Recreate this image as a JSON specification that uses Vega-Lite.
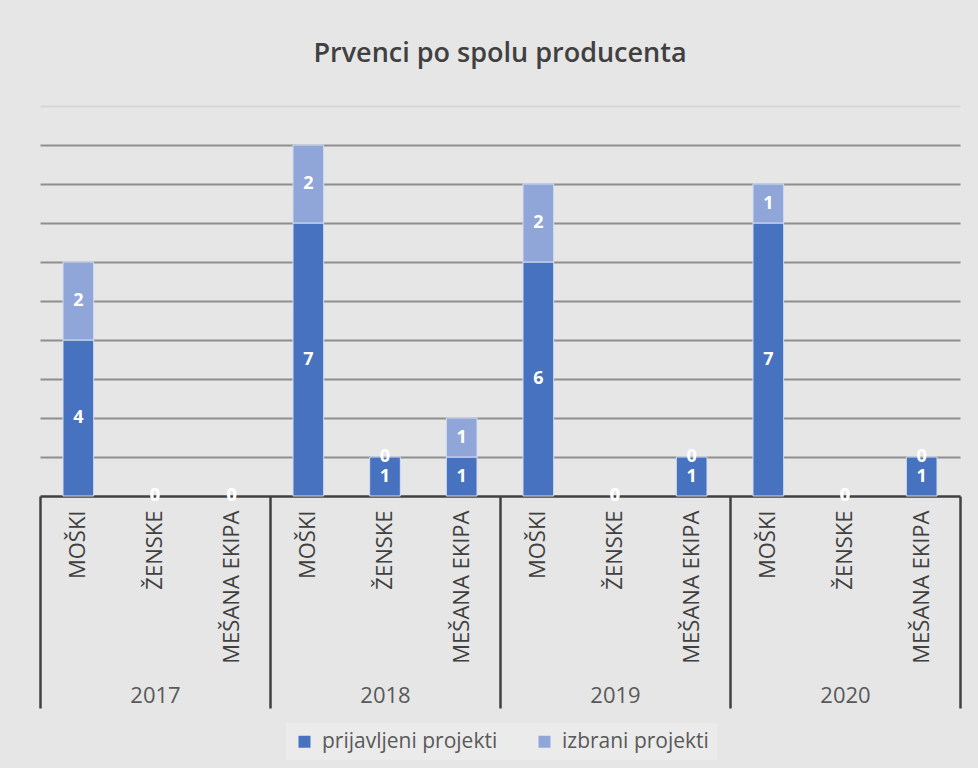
{
  "$schema": "https://vega.github.io/schema/vega-lite/v6.json",
  "background": "#e6e6e6",
  "padding": {"left": 38, "top": 40, "right": 20, "bottom": 8},
  "width": 920,
  "height": 390,
  "title": {
    "text": "Prvenci po spolu producenta",
    "font": "Open Sans",
    "fontSize": 27,
    "fontWeight": 600,
    "color": "#404040",
    "offset": 38,
    "anchor": "middle"
  },
  "data": {
    "values": [
      {"year": "2017", "cat": "MOŠKI", "slot": "2017|MOŠKI", "series": "prijavljeni projekti", "value": 4},
      {"year": "2017", "cat": "MOŠKI", "slot": "2017|MOŠKI", "series": "izbrani projekti", "value": 2},
      {"year": "2017", "cat": "ŽENSKE", "slot": "2017|ŽENSKE", "series": "prijavljeni projekti", "value": 0},
      {"year": "2017", "cat": "ŽENSKE", "slot": "2017|ŽENSKE", "series": "izbrani projekti", "value": 0},
      {"year": "2017", "cat": "MEŠANA EKIPA", "slot": "2017|MEŠANA EKIPA", "series": "prijavljeni projekti", "value": 0},
      {"year": "2017", "cat": "MEŠANA EKIPA", "slot": "2017|MEŠANA EKIPA", "series": "izbrani projekti", "value": 0},
      {"year": "2018", "cat": "MOŠKI", "slot": "2018|MOŠKI", "series": "prijavljeni projekti", "value": 7},
      {"year": "2018", "cat": "MOŠKI", "slot": "2018|MOŠKI", "series": "izbrani projekti", "value": 2},
      {"year": "2018", "cat": "ŽENSKE", "slot": "2018|ŽENSKE", "series": "prijavljeni projekti", "value": 1},
      {"year": "2018", "cat": "ŽENSKE", "slot": "2018|ŽENSKE", "series": "izbrani projekti", "value": 0},
      {"year": "2018", "cat": "MEŠANA EKIPA", "slot": "2018|MEŠANA EKIPA", "series": "prijavljeni projekti", "value": 1},
      {"year": "2018", "cat": "MEŠANA EKIPA", "slot": "2018|MEŠANA EKIPA", "series": "izbrani projekti", "value": 1},
      {"year": "2019", "cat": "MOŠKI", "slot": "2019|MOŠKI", "series": "prijavljeni projekti", "value": 6},
      {"year": "2019", "cat": "MOŠKI", "slot": "2019|MOŠKI", "series": "izbrani projekti", "value": 2},
      {"year": "2019", "cat": "ŽENSKE", "slot": "2019|ŽENSKE", "series": "prijavljeni projekti", "value": 0},
      {"year": "2019", "cat": "ŽENSKE", "slot": "2019|ŽENSKE", "series": "izbrani projekti", "value": 0},
      {"year": "2019", "cat": "MEŠANA EKIPA", "slot": "2019|MEŠANA EKIPA", "series": "prijavljeni projekti", "value": 1},
      {"year": "2019", "cat": "MEŠANA EKIPA", "slot": "2019|MEŠANA EKIPA", "series": "izbrani projekti", "value": 0},
      {"year": "2020", "cat": "MOŠKI", "slot": "2020|MOŠKI", "series": "prijavljeni projekti", "value": 7},
      {"year": "2020", "cat": "MOŠKI", "slot": "2020|MOŠKI", "series": "izbrani projekti", "value": 1},
      {"year": "2020", "cat": "ŽENSKE", "slot": "2020|ŽENSKE", "series": "prijavljeni projekti", "value": 0},
      {"year": "2020", "cat": "ŽENSKE", "slot": "2020|ŽENSKE", "series": "izbrani projekti", "value": 0},
      {"year": "2020", "cat": "MEŠANA EKIPA", "slot": "2020|MEŠANA EKIPA", "series": "prijavljeni projekti", "value": 1},
      {"year": "2020", "cat": "MEŠANA EKIPA", "slot": "2020|MEŠANA EKIPA", "series": "izbrani projekti", "value": 0}
    ]
  },
  "layer": [
    {
      "encoding": {
        "x": {
          "field": "slot",
          "type": "nominal",
          "sort": null,
          "scale": {"paddingInner": 0.6, "paddingOuter": 0.3},
          "axis": {
            "title": null,
            "labelExpr": "split(datum.label, '|')[1]",
            "labelAngle": -90,
            "labelPadding": 14,
            "labelFont": "Open Sans",
            "labelFontSize": 22,
            "labelColor": "#404040",
            "labelLimit": 300,
            "ticks": false,
            "tickSize": 0,
            "domain": true,
            "domainColor": "#404040",
            "domainWidth": 2.5,
            "grid": false
          }
        },
        "y": {
          "field": "value",
          "type": "quantitative",
          "aggregate": "sum",
          "stack": "zero",
          "scale": {"domain": [0, 10], "nice": false},
          "axis": {
            "title": null,
            "labels": false,
            "ticks": false,
            "domain": false,
            "grid": true,
            "values": [1, 2, 3, 4, 5, 6, 7, 8, 9, 10],
            "gridColor": {"condition": {"test": "datum.value === 10", "value": "#d6d6d6"}, "value": "#8e8e8e"},
            "gridWidth": 2
          }
        },
        "order": {"field": "series", "sort": "descending"}
      },
      "layer": [
        {
          "mark": {"type": "bar", "stroke": "#d4dcf0", "strokeWidth": 1},
          "encoding": {
            "strokeOpacity": {"condition": {"test": "datum.sum_value === 0", "value": 0}, "value": 1},
            "color": {
              "field": "series",
              "type": "nominal",
              "scale": {
                "domain": ["prijavljeni projekti", "izbrani projekti"],
                "range": ["#4672c0", "#90a6d8"]
              },
              "legend": {
                "title": null,
                "orient": "none",
                "legendX": 246,
                "legendY": 617,
                "direction": "horizontal",
                "symbolType": "square",
                "symbolSize": 144,
                "symbolStrokeWidth": 0,
                "labelFont": "Open Sans",
                "labelFontSize": 21,
                "labelColor": "#595959",
                "labelLimit": 400,
                "labelOffset": 7,
                "fillColor": "#ebebeb",
                "padding": 8,
                "columnPadding": 36
              }
            }
          }
        },
        {
          "mark": {"type": "text", "font": "Open Sans", "fontSize": 18, "fontWeight": "bold", "color": "white"},
          "encoding": {
            "y": {"field": "value", "type": "quantitative", "aggregate": "sum", "stack": "zero", "bandPosition": 0.5},
            "detail": {"field": "series"},
            "text": {"field": "value", "aggregate": "sum", "type": "quantitative"}
          }
        }
      ]
    },
    {
      "mark": {"type": "rect", "opacity": 0},
      "encoding": {
        "x": {
          "field": "year",
          "type": "nominal",
          "sort": null,
          "scale": {"paddingInner": 0, "paddingOuter": 0},
          "axis": {
            "title": null,
            "orient": "bottom",
            "domain": false,
            "grid": false,
            "ticks": true,
            "tickBand": "extent",
            "tickSize": 212,
            "tickWidth": 2.5,
            "tickColor": "#404040",
            "labelAngle": 0,
            "labelPadding": -23,
            "labelFont": "Open Sans",
            "labelFontSize": 22,
            "labelColor": "#595959"
          }
        }
      }
    }
  ],
  "resolve": {"scale": {"x": "independent"}, "axis": {"x": "independent"}},
  "config": {
    "view": {"stroke": null}
  }
}
